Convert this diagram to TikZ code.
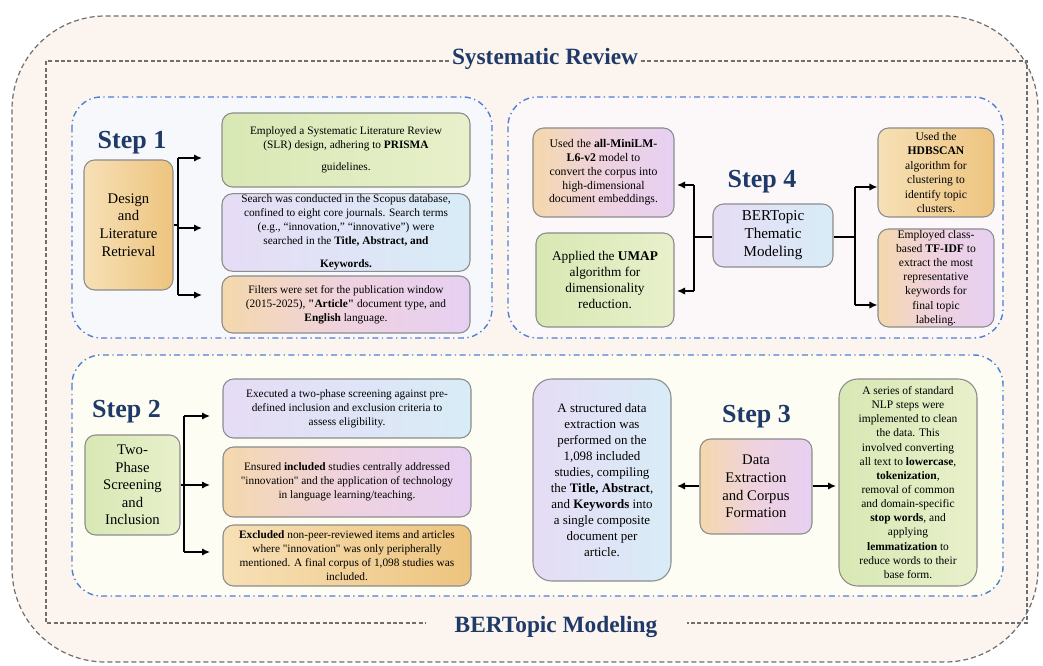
\documentclass[tikz,border=0pt]{standalone}
\usepackage{fontspec}
\setmainfont{Liberation Serif}[Ligatures=TeXOff]
\usetikzlibrary{arrows.meta,calc}
\definecolor{bgpeach}{HTML}{FCF4EF}
\definecolor{outerline}{HTML}{6E6E6E}
\definecolor{navy}{HTML}{1F3A68}
\definecolor{panelblue}{HTML}{4F7FD3}
\definecolor{ponefill}{HTML}{F7F8FB}
\definecolor{pfourfill}{HTML}{FCF8FA}
\definecolor{pbotfill}{HTML}{FDFDF3}
\definecolor{boxgray}{HTML}{8C8C8C}
\definecolor{grA}{HTML}{D8E8B4}
\definecolor{grB}{HTML}{E8F0CB}
\definecolor{orA}{HTML}{F7E0B6}
\definecolor{orB}{HTML}{EDC47E}
\definecolor{lvA}{HTML}{E6DCF5}
\definecolor{lvB}{HTML}{D8ECF7}
\definecolor{opA}{HTML}{F4D8AC}
\definecolor{opB}{HTML}{EFD2E0}
\definecolor{opC}{HTML}{E6D0F2}
\newcommand{\px}{0.75pt}
\newcommand{\bodyf}{\fontsize{8.5}{10.5}\selectfont}
\newcommand{\bigf}{\fontsize{11}{13.2}\selectfont}
\newcommand{\stepf}{\fontsize{19.5}{22}\selectfont\bfseries}
\newcommand{\titf}{\fontsize{17.5}{20}\selectfont\bfseries}
\tikzset{
  box/.style={draw=boxgray, line width=0.8pt, rounded corners=8pt, align=center, inner sep=1pt, font=\bodyf},
  green/.style={left color=grA, right color=grB},
  orange/.style={left color=orA, right color=orB},
  lavblue/.style={left color=lvA, right color=lvB},
  orpink/.style={left color=opA, right color=opC, middle color=opB},
  arr/.style={-{Latex[length=6pt,width=5.5pt]}, line width=1.1pt},
  ln/.style={line width=1.1pt},
  panel/.style={draw=panelblue, line width=1.05pt, dash pattern=on 4.5pt off 2.6pt on 1pt off 2.6pt, rounded corners=22pt},
  innerd/.style={draw=outerline, line width=0.8pt, dash pattern=on 3pt off 1.8pt},
  steplbl/.style={font=\stepf, text=navy, anchor=base, inner sep=0pt},
  titl/.style={font=\titf, text=navy, anchor=base}
}
\begin{document}
\begin{tikzpicture}[x=0.75pt,y=-0.75pt]
\useasboundingbox (0,0) rectangle (1043,666);
% outer frame
\path[draw=outerline, fill=bgpeach, line width=0.9pt, dash pattern=on 3.75pt off 2.25pt, rounded corners=70pt] (12,16) rectangle (1038,662);
% inner dashed frame with titles
\node[titl, inner xsep=2pt] (sr) at (545,65) {Systematic Review};
\node[titl, inner xsep=22pt] (bm) at (556,632) {BERTopic Modeling};
\coordinate (itl) at (46,61);
\coordinate (itr) at (1027,61);
\coordinate (ibl) at (46,623);
\coordinate (ibr) at (1027,623);
\draw[innerd] (sr.west |- itl) -- (itl) -- (ibl) -- (bm.west |- ibl);
\draw[innerd] (sr.east |- itr) -- (itr) -- (ibr) -- (bm.east |- ibr);
% panels
\draw[panel, fill=ponefill] (72,97) rectangle (492,338);
\draw[panel, fill=pfourfill] (508,97) rectangle (1003,338);
\draw[panel, fill=pbotfill] (72,355) rectangle (1003,596);

% ---------- Step 1 ----------
\node[steplbl] (st1) at (132,149) {Step 1};
\node[box, orange, minimum width=89*\px, minimum height=130*\px, font=\bigf] (des) at (128.5,225) {Design\\and\\Literature\\Retrieval};
\node[box, green, minimum width=248*\px, minimum height=74*\px] (s1a) at (346,150) {Employed a Systematic Literature Review\\(SLR) design, adhering to \textbf{PRISMA}\\[6pt]guidelines.};
\node[box, lavblue, minimum width=248*\px, minimum height=75*\px] (s1b) at (346,232.5) {Search was conducted in the Scopus database,\\confined to eight core journals. Search terms\\(e.g., “innovation,” “innovative”) were\\searched in the \textbf{Title, Abstract, and}\\[6.5pt]\textbf{Keywords.}};
\node[box, orpink, minimum width=248*\px, minimum height=57*\px] (s1c) at (346,304.5) {Filters were set for the publication window\\(2015-2025), \textbf{"Article"} document type, and\\\textbf{English} language.};
\coordinate (j1t) at (178,158);
\coordinate (j1b) at (178,295);
\coordinate (a1a) at (202,158);
\coordinate (a1b) at (202,228);
\coordinate (a1c) at (202,295);
\draw[ln] (des.east) -- (des.east -| j1t);
\draw[ln] (j1t) -- (j1b);
\draw[arr] (j1t) -- (a1a);
\draw[arr] (a1b -| j1t) -- (a1b);
\draw[arr] (j1b) -- (a1c);

% ---------- Step 4 ----------
\node[steplbl] (st4) at (762,188) {Step 4};
\node[box, orpink, minimum width=141*\px, minimum height=89*\px, font=\fontsize{8.8}{10.3}\selectfont] (mini) at (603.5,172.5) {Used the \textbf{all-MiniLM-}\\\textbf{L6-v2} model to\\convert the corpus into\\high-dimensional\\document embeddings.};
\node[box, green, minimum width=138*\px, minimum height=94*\px, font=\fontsize{10}{12}\selectfont] (umap) at (605,280) {Applied the \textbf{UMAP}\\algorithm for\\dimensionality\\reduction.};
\node[box, lavblue, minimum width=120*\px, minimum height=63*\px, font=\fontsize{11.3}{13.5}\selectfont] (bert) at (773,235.5) {BERTopic\\Thematic\\Modeling};
\node[box, orange, minimum width=116*\px, minimum height=89*\px, font=\fontsize{8.7}{10.8}\selectfont] (hdb) at (936,172.5) {Used the\\\textbf{HDBSCAN}\\algorithm for\\clustering to\\identify topic\\clusters.};
\node[box, orpink, minimum width=116*\px, minimum height=98*\px, font=\fontsize{8.7}{10.6}\selectfont] (tfidf) at (936,278) {Employed class-\\based \textbf{TF-IDF} to\\extract the most\\representative\\keywords for\\final topic\\labeling.};
\coordinate (j4l) at (694,237);
\coordinate (j4lt) at (694,185);
\coordinate (j4lb) at (694,291);
\coordinate (a4lt) at (677,185);
\coordinate (a4lb) at (677,291);
\coordinate (j4r) at (855,237);
\coordinate (j4rt) at (855,187);
\coordinate (j4rb) at (855,305);
\draw[ln] (bert.west |- j4l) -- (j4l);
\draw[ln] (j4lt) -- (j4lb);
\draw[arr] (j4lt) -- (a4lt);
\draw[arr] (j4lb) -- (a4lb);
\draw[ln] (bert.east |- j4r) -- (j4r);
\draw[ln] (j4rt) -- (j4rb);
\draw[arr] (j4rt) -- (hdb.west |- j4rt);
\draw[arr] (j4rb) -- (tfidf.west |- j4rb);

% ---------- Step 2 ----------
\node[steplbl] (st2) at (126.5,418) {Step 2};
\node[box, green, minimum width=95*\px, minimum height=100*\px, font=\bigf] (tp) at (132.5,485) {Two-\\Phase\\Screening\\and\\Inclusion};
\node[box, lavblue, minimum width=248*\px, minimum height=59*\px] (s2a) at (347,408.5) {Executed a two-phase screening against pre-\\defined inclusion and exclusion criteria to\\assess eligibility.};
\node[box, orpink, minimum width=248*\px, minimum height=70*\px] (s2b) at (347,482) {Ensured \textbf{included} studies centrally addressed\\"innovation" and the application of technology\\in language learning/teaching.};
\node[box, orange, minimum width=248*\px, minimum height=61*\px] (s2c) at (347,555.5) {\textbf{Excluded} non-peer-reviewed items and articles\\where "innovation" was only peripherally\\mentioned. A final corpus of 1,098 studies was\\included.};
\coordinate (j2t) at (184,416);
\coordinate (j2b) at (184,552);
\coordinate (a2a) at (210,416);
\coordinate (a2b) at (210,485);
\coordinate (a2c) at (210,552);
\draw[ln] (tp.east) -- (tp.east -| j2t);
\draw[ln] (j2t) -- (j2b);
\draw[arr] (j2t) -- (a2a);
\draw[arr] (a2b -| j2t) -- (a2b);
\draw[arr] (j2b) -- (a2c);

% ---------- Step 3 ----------
\node[steplbl] (st3) at (756.5,423) {Step 3};
\node[box, lavblue, minimum width=138*\px, minimum height=202*\px, font=\fontsize{9.7}{12}\selectfont, rounded corners=14pt] (s3l) at (602,480) {A structured data\\extraction was\\performed on the\\1,098 included\\studies, compiling\\the \textbf{Title, Abstract},\\and \textbf{Keywords} into\\a single composite\\document per\\article.};
\node[box, orpink, minimum width=112*\px, minimum height=95*\px, font=\bigf] (dex) at (756,486.5) {Data\\Extraction\\and Corpus\\Formation};
\node[box, green, minimum width=138*\px, minimum height=207*\px, font=\fontsize{8.6}{10.6}\selectfont, rounded corners=14pt] (s3r) at (908,482.5) {A series of standard\\NLP steps were\\implemented to clean\\the data. This\\involved converting\\all text to \textbf{lowercase},\\\textbf{tokenization},\\removal of common\\and domain-specific\\\textbf{stop words}, and\\applying\\\textbf{lemmatization} to\\reduce words to their\\base form.};
\coordinate (a3l) at (677,486);
\coordinate (a3r) at (836,486);
\draw[arr] (dex.west |- a3l) -- (a3l);
\draw[arr] (dex.east |- a3r) -- (a3r);
\end{tikzpicture}
\end{document}
